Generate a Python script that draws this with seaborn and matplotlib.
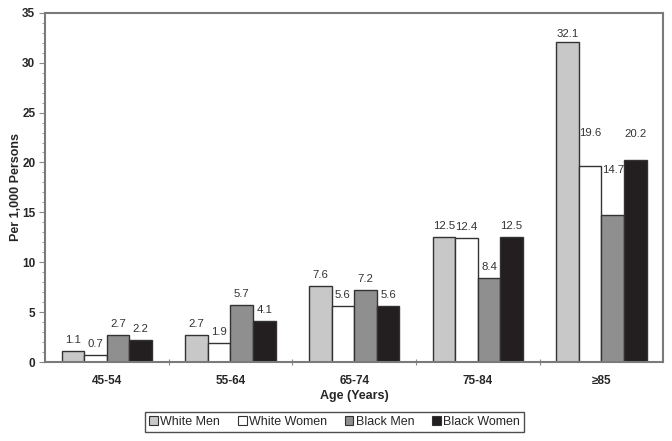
import pandas as pd
import numpy as np
import matplotlib.pyplot as plt
import seaborn as sns
from matplotlib.ticker import MultipleLocator, FixedLocator

# data
ages = ["45-54", "55-64", "65-74", "75-84", "≥85"]
groups = ["White Men", "White Women", "Black Men", "Black Women"]
white_men = [1.1, 2.7, 7.6, 12.5, 32.1]
white_women = [0.7, 1.9, 5.6, 12.4, 19.6]
black_men = [2.7, 5.7, 7.2, 8.4, 14.7]
black_women = [2.2, 4.1, 5.6, 12.5, 20.2]

colors = ["#c8c8c8", "#ffffff", "#8f8f8f", "#231f20"]

rows = []
for g, vals in zip(groups, [white_men, white_women, black_men, black_women]):
    for a, v in zip(ages, vals):
        rows.append({"age": a, "group": g, "rate": v})
df = pd.DataFrame(rows)

sns.set_style("white")
plt.rcParams['font.family'] = ['Liberation Sans', 'DejaVu Sans']

fig = plt.figure(figsize=(6.72, 4.41), dpi=100)
ax = fig.add_axes([0.067, 0.179, 0.92, 0.792])

sns.barplot(data=df, x="age", y="rate", hue="group", order=ages, hue_order=groups,
            palette=colors, width=0.73, edgecolor="#333333", linewidth=1.0,
            saturation=1, ax=ax, legend=True)

# value labels, the last group's labels sit higher in the original
extra = {4: [-0.3, 2.3, 3.4, 1.6]}
for gi, cont in enumerate(ax.containers):
    for ai, bar in enumerate(cont):
        v = bar.get_height()
        off = 1.1 + (extra[ai][gi] if ai in extra else 0)
        ax.text(bar.get_x() + bar.get_width() / 2, v + off, f"{v:.1f}",
                ha="center", va="center", fontsize=8.2, color="#333333")

ax.set_ylim(0, 35)
ax.set_xlim(-0.5, 4.5)
ax.yaxis.set_major_locator(MultipleLocator(5))
ax.yaxis.set_minor_locator(MultipleLocator(1))
ax.xaxis.set_minor_locator(FixedLocator([0.5, 1.5, 2.5, 3.5]))
ax.tick_params(axis="y", which="major", left=True, length=4, width=0.8, color="#888888",
               labelsize=8.5, pad=3)
ax.tick_params(axis="y", which="minor", left=True, length=2, width=0.6, color="#888888")
ax.tick_params(axis="x", which="major", bottom=False, labelsize=8.5, pad=6)
ax.tick_params(axis="x", which="minor", bottom=True, length=4, width=0.8,
               direction="inout", color="#888888")
for lab in ax.get_xticklabels() + ax.get_yticklabels():
    lab.set_fontweight("bold")

for s in ax.spines.values():
    s.set_visible(True)
    s.set_color("#7a7a7a")
    s.set_linewidth(1.5)

ax.set_xlabel("Age (Years)", fontsize=9, fontweight="bold", labelpad=2)
ax.set_ylabel("Per 1,000 Persons", fontsize=9, fontweight="bold", labelpad=0)

ax.legend_.remove()
handles = [plt.Rectangle((0, 0), 1, 1, facecolor=c, edgecolor="#333333", linewidth=0.8)
           for c in colors]
leg = fig.legend(handles, groups, loc="center", bbox_to_anchor=(0.498, 0.043), ncol=4,
                 frameon=True, fancybox=False, fontsize=9, handlelength=0.7,
                 handleheight=0.7, handletextpad=0.2, columnspacing=1.4,
                 borderpad=0.3, edgecolor="#222222")
leg.get_frame().set_linewidth(1.0)

fig.savefig("out.png", dpi=100)
